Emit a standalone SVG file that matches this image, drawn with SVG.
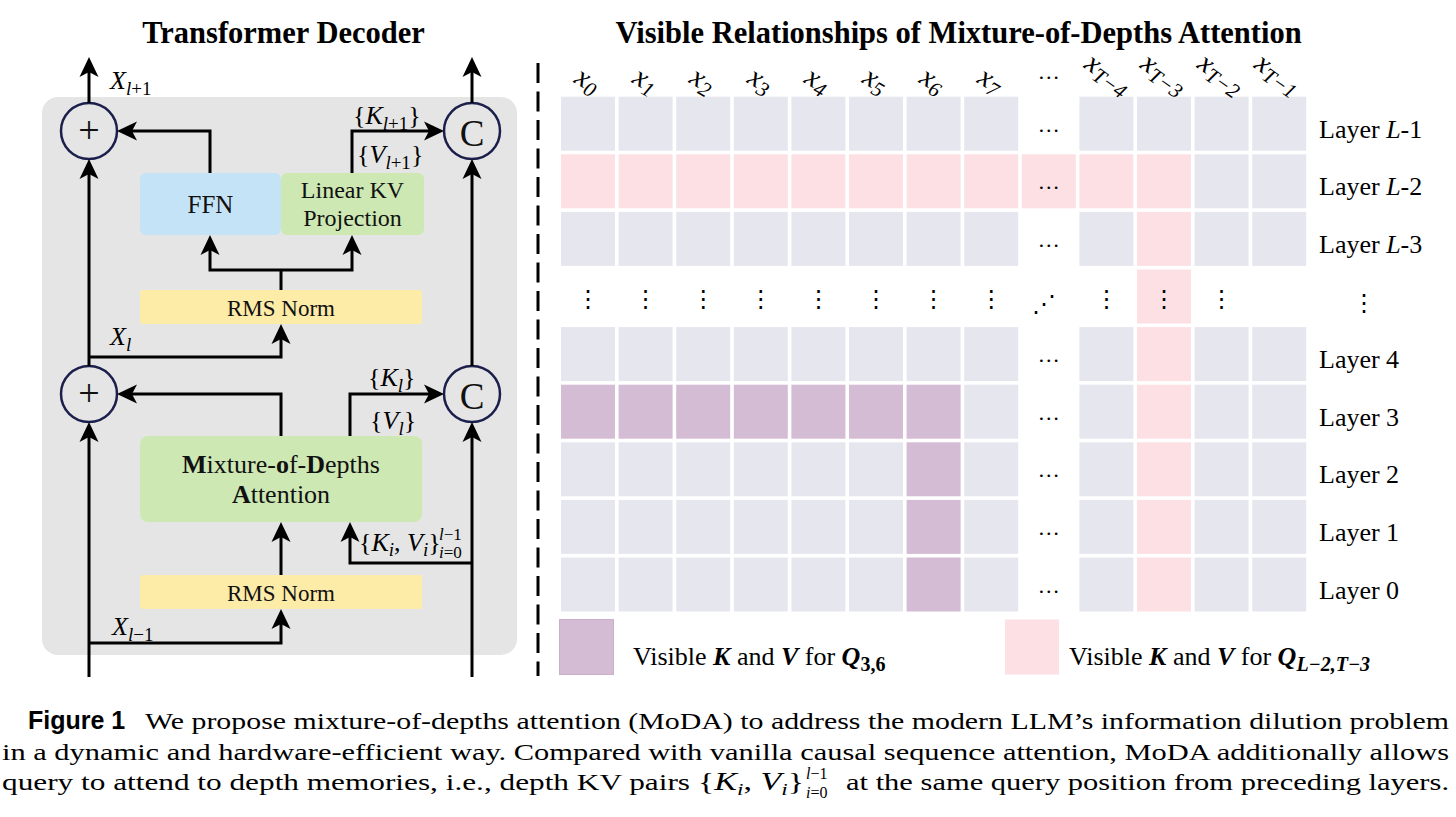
<svg xmlns="http://www.w3.org/2000/svg" width="1456" height="817" viewBox="0 0 1456 817">
<style>
.title{font-family:"Liberation Serif",serif;font-weight:bold;font-size:30.5px;text-anchor:middle}
.box{font-family:"Liberation Serif",serif;text-anchor:middle;fill:#111}
.m{font-family:"Liberation Serif",serif;font-style:italic;font-size:26px}
.up{font-style:normal}
.s{font-size:19px}
.g{fill:#E6E6EF}
.p{fill:#FDE0E3}
.v{fill:#D4BCD4}
.xl{font-family:"Liberation Serif",serif;font-style:italic;font-size:29px}
.xs{font-size:21px}
.el{font-family:"Liberation Serif",serif;font-size:22px;text-anchor:middle}
.vd{font-family:"DejaVu Sans",sans-serif;font-size:24px;text-anchor:middle}
.lay{font-family:"Liberation Serif",serif;font-size:26px}
.ln{fill:none;stroke:#000;stroke-width:3}
.circ{fill:none;stroke:#1B1F4B;stroke-width:2.5}
.cap{font-family:"Liberation Serif",serif}
</style>
<defs>
<marker id="ah" viewBox="0 0 20 20" refX="14" refY="10" markerWidth="20" markerHeight="20" markerUnits="userSpaceOnUse" orient="auto">
<path d="M20,10 L0,0.5 L5,10 L0,19.5 Z" fill="#000"/>
</marker>
</defs>
<rect width="1456" height="817" fill="#fff"/>

<text class="title" x="283.5" y="43">Transformer Decoder</text>
<text class="title" x="958.5" y="43">Visible Relationships of Mixture-of-Depths Attention</text>

<line x1="538" y1="63" x2="538" y2="676" stroke="#000" stroke-width="3" stroke-dasharray="20 8.5"/>

<rect id="panel" x="42" y="97" width="475" height="558" rx="16" fill="#E5E5E5"/>

<g id="ffn"><rect x="140" y="173" width="141" height="62" rx="6" fill="#C5E3F6"/><text class="box" x="210.5" y="213" font-size="25">FFN</text></g>
<g id="linearkv"><rect x="281" y="173" width="143" height="62" rx="6" fill="#CDE8B3"/><text class="box" x="352.5" y="198" font-size="24">Linear KV</text><text class="box" x="352.5" y="226" font-size="24">Projection</text></g>
<g id="rmsnorm-top"><rect x="140" y="290" width="282" height="34" rx="3" fill="#FDEBA8"/><text class="box" x="281" y="316" font-size="23">RMS Norm</text></g>
<g id="moda"><rect x="140" y="436" width="282" height="86" rx="8" fill="#CDE8B3"/><text class="box" x="281" y="473" font-size="26"><tspan font-weight="bold">M</tspan>ixture-<tspan font-weight="bold">o</tspan>f-<tspan font-weight="bold">D</tspan>epths</text><text class="box" x="281" y="503" font-size="26"><tspan font-weight="bold">A</tspan>ttention</text></g>
<g id="rmsnorm-bottom"><rect x="140" y="575" width="282" height="34" rx="3" fill="#FDEBA8"/><text class="box" x="281" y="601" font-size="23">RMS Norm</text></g>

<g id="add-top"><circle class="circ" cx="89" cy="131" r="28"/><text class="box" x="89" y="143" font-size="38">+</text></g>
<g id="concat-top"><circle class="circ" cx="472" cy="131" r="28"/><text class="box" x="472" y="146" font-size="37">C</text></g>
<g id="add-bottom"><circle class="circ" cx="89" cy="394" r="28"/><text class="box" x="89" y="406" font-size="38">+</text></g>
<g id="concat-bottom"><circle class="circ" cx="472" cy="394" r="28"/><text class="box" x="472" y="409" font-size="37">C</text></g>

<g id="connectors">
<path class="ln" marker-end="url(#ah)" d="M89,103 V63"/>
<path class="ln" marker-end="url(#ah)" d="M472,103 V63"/>
<path class="ln" marker-end="url(#ah)" d="M89,677 V428"/>
<path class="ln" marker-end="url(#ah)" d="M89,366 V165"/>
<path class="ln" marker-end="url(#ah)" d="M472,677 V428"/>
<path class="ln" marker-end="url(#ah)" d="M472,366 V165"/>
<path class="ln" marker-end="url(#ah)" d="M89,643 H281 V615"/>
<path class="ln" marker-end="url(#ah)" d="M281,575 V528"/>
<path class="ln" marker-end="url(#ah)" d="M281,436 V394 H123"/>
<path class="ln" marker-end="url(#ah)" d="M350,436 V394 H438"/>
<path class="ln" marker-end="url(#ah)" d="M472,563 H350 V528"/>
<path class="ln" marker-end="url(#ah)" d="M89,357 H281 V330"/>
<path class="ln" d="M281,290 V270"/>
<path class="ln" marker-end="url(#ah)" d="M281,270 H210 V241"/>
<path class="ln" marker-end="url(#ah)" d="M281,270 H352 V241"/>
<path class="ln" marker-end="url(#ah)" d="M210,173 V131 H123"/>
<path class="ln" marker-end="url(#ah)" d="M352,173 V131 H438"/>
</g>

<g id="labels-left">
<text class="m" x="110" y="89">X<tspan class="s" dy="6">l</tspan><tspan class="s up">+1</tspan></text>
<text class="m" x="353" y="124"><tspan class="up">{</tspan>K<tspan class="s" dy="6">l</tspan><tspan class="s up">+1</tspan><tspan class="up" dy="-6">}</tspan></text>
<text class="m" x="357" y="163"><tspan class="up">{</tspan>V<tspan class="s" dy="6">l</tspan><tspan class="s up">+1</tspan><tspan class="up" dy="-6">}</tspan></text>
<text class="m" x="110" y="345">X<tspan class="s" dy="6">l</tspan></text>
<text class="m" x="368" y="386"><tspan class="up">{</tspan>K<tspan class="s" dy="6">l</tspan><tspan class="up" dy="-6">}</tspan></text>
<text class="m" x="370" y="429"><tspan class="up">{</tspan>V<tspan class="s" dy="6">l</tspan><tspan class="up" dy="-6">}</tspan></text>
<text class="m" x="359" y="551"><tspan class="up">{</tspan>K<tspan class="s" dy="5">i</tspan><tspan class="up" dy="-5">, </tspan>V<tspan class="s" dy="5">i</tspan><tspan class="up" dy="-5">}</tspan></text>
<text class="m" style="font-size:17px" x="439" y="540">l<tspan class="up">−1</tspan></text>
<text class="m" style="font-size:17px" x="439" y="558">i<tspan class="up">=0</tspan></text>
<text class="m" x="112" y="635">X<tspan class="s" dy="6">l</tspan><tspan class="s up">−1</tspan></text>
</g>

<g id="grid">
<rect class="g" x="561" y="96.7" width="54" height="54"/><rect class="g" x="618.6" y="96.7" width="54" height="54"/><rect class="g" x="676.2" y="96.7" width="54" height="54"/><rect class="g" x="733.8" y="96.7" width="54" height="54"/><rect class="g" x="791.4" y="96.7" width="54" height="54"/><rect class="g" x="849" y="96.7" width="54" height="54"/><rect class="g" x="906.6" y="96.7" width="54" height="54"/><rect class="g" x="964.2" y="96.7" width="54" height="54"/><rect class="g" x="1079.4" y="96.7" width="54" height="54"/><rect class="g" x="1137" y="96.7" width="54" height="54"/><rect class="g" x="1194.6" y="96.7" width="54" height="54"/><rect class="g" x="1252.2" y="96.7" width="54" height="54"/>
<rect class="p" x="561" y="154.3" width="54" height="54"/><rect class="p" x="618.6" y="154.3" width="54" height="54"/><rect class="p" x="676.2" y="154.3" width="54" height="54"/><rect class="p" x="733.8" y="154.3" width="54" height="54"/><rect class="p" x="791.4" y="154.3" width="54" height="54"/><rect class="p" x="849" y="154.3" width="54" height="54"/><rect class="p" x="906.6" y="154.3" width="54" height="54"/><rect class="p" x="964.2" y="154.3" width="54" height="54"/><rect class="p" x="1021.8" y="154.3" width="54" height="54"/><rect class="p" x="1079.4" y="154.3" width="54" height="54"/><rect class="p" x="1137" y="154.3" width="54" height="54"/><rect class="g" x="1194.6" y="154.3" width="54" height="54"/><rect class="g" x="1252.2" y="154.3" width="54" height="54"/>
<rect class="g" x="561" y="211.9" width="54" height="54"/><rect class="g" x="618.6" y="211.9" width="54" height="54"/><rect class="g" x="676.2" y="211.9" width="54" height="54"/><rect class="g" x="733.8" y="211.9" width="54" height="54"/><rect class="g" x="791.4" y="211.9" width="54" height="54"/><rect class="g" x="849" y="211.9" width="54" height="54"/><rect class="g" x="906.6" y="211.9" width="54" height="54"/><rect class="g" x="964.2" y="211.9" width="54" height="54"/><rect class="g" x="1079.4" y="211.9" width="54" height="54"/><rect class="p" x="1137" y="211.9" width="54" height="54"/><rect class="g" x="1194.6" y="211.9" width="54" height="54"/><rect class="g" x="1252.2" y="211.9" width="54" height="54"/>
<rect class="p" x="1137" y="269.5" width="54" height="54"/>
<rect class="g" x="561" y="327.1" width="54" height="54"/><rect class="g" x="618.6" y="327.1" width="54" height="54"/><rect class="g" x="676.2" y="327.1" width="54" height="54"/><rect class="g" x="733.8" y="327.1" width="54" height="54"/><rect class="g" x="791.4" y="327.1" width="54" height="54"/><rect class="g" x="849" y="327.1" width="54" height="54"/><rect class="g" x="906.6" y="327.1" width="54" height="54"/><rect class="g" x="964.2" y="327.1" width="54" height="54"/><rect class="g" x="1079.4" y="327.1" width="54" height="54"/><rect class="p" x="1137" y="327.1" width="54" height="54"/><rect class="g" x="1194.6" y="327.1" width="54" height="54"/><rect class="g" x="1252.2" y="327.1" width="54" height="54"/>
<rect class="v" x="561" y="384.7" width="54" height="54"/><rect class="v" x="618.6" y="384.7" width="54" height="54"/><rect class="v" x="676.2" y="384.7" width="54" height="54"/><rect class="v" x="733.8" y="384.7" width="54" height="54"/><rect class="v" x="791.4" y="384.7" width="54" height="54"/><rect class="v" x="849" y="384.7" width="54" height="54"/><rect class="v" x="906.6" y="384.7" width="54" height="54"/><rect class="g" x="964.2" y="384.7" width="54" height="54"/><rect class="g" x="1079.4" y="384.7" width="54" height="54"/><rect class="p" x="1137" y="384.7" width="54" height="54"/><rect class="g" x="1194.6" y="384.7" width="54" height="54"/><rect class="g" x="1252.2" y="384.7" width="54" height="54"/>
<rect class="g" x="561" y="442.3" width="54" height="54"/><rect class="g" x="618.6" y="442.3" width="54" height="54"/><rect class="g" x="676.2" y="442.3" width="54" height="54"/><rect class="g" x="733.8" y="442.3" width="54" height="54"/><rect class="g" x="791.4" y="442.3" width="54" height="54"/><rect class="g" x="849" y="442.3" width="54" height="54"/><rect class="v" x="906.6" y="442.3" width="54" height="54"/><rect class="g" x="964.2" y="442.3" width="54" height="54"/><rect class="g" x="1079.4" y="442.3" width="54" height="54"/><rect class="p" x="1137" y="442.3" width="54" height="54"/><rect class="g" x="1194.6" y="442.3" width="54" height="54"/><rect class="g" x="1252.2" y="442.3" width="54" height="54"/>
<rect class="g" x="561" y="499.9" width="54" height="54"/><rect class="g" x="618.6" y="499.9" width="54" height="54"/><rect class="g" x="676.2" y="499.9" width="54" height="54"/><rect class="g" x="733.8" y="499.9" width="54" height="54"/><rect class="g" x="791.4" y="499.9" width="54" height="54"/><rect class="g" x="849" y="499.9" width="54" height="54"/><rect class="v" x="906.6" y="499.9" width="54" height="54"/><rect class="g" x="964.2" y="499.9" width="54" height="54"/><rect class="g" x="1079.4" y="499.9" width="54" height="54"/><rect class="p" x="1137" y="499.9" width="54" height="54"/><rect class="g" x="1194.6" y="499.9" width="54" height="54"/><rect class="g" x="1252.2" y="499.9" width="54" height="54"/>
<rect class="g" x="561" y="557.5" width="54" height="54"/><rect class="g" x="618.6" y="557.5" width="54" height="54"/><rect class="g" x="676.2" y="557.5" width="54" height="54"/><rect class="g" x="733.8" y="557.5" width="54" height="54"/><rect class="g" x="791.4" y="557.5" width="54" height="54"/><rect class="g" x="849" y="557.5" width="54" height="54"/><rect class="v" x="906.6" y="557.5" width="54" height="54"/><rect class="g" x="964.2" y="557.5" width="54" height="54"/><rect class="g" x="1079.4" y="557.5" width="54" height="54"/><rect class="p" x="1137" y="557.5" width="54" height="54"/><rect class="g" x="1194.6" y="557.5" width="54" height="54"/><rect class="g" x="1252.2" y="557.5" width="54" height="54"/>
</g>

<g id="column-labels">
<text class="xl" transform="translate(573,82) rotate(30)">x<tspan class="xs" dy="5">0</tspan></text>
<text class="xl" transform="translate(631,82) rotate(30)">x<tspan class="xs" dy="5">1</tspan></text>
<text class="xl" transform="translate(688,82) rotate(30)">x<tspan class="xs" dy="5">2</tspan></text>
<text class="xl" transform="translate(746,82) rotate(30)">x<tspan class="xs" dy="5">3</tspan></text>
<text class="xl" transform="translate(803,82) rotate(30)">x<tspan class="xs" dy="5">4</tspan></text>
<text class="xl" transform="translate(861,82) rotate(30)">x<tspan class="xs" dy="5">5</tspan></text>
<text class="xl" transform="translate(918,82) rotate(30)">x<tspan class="xs" dy="5">6</tspan></text>
<text class="xl" transform="translate(976,82) rotate(30)">x<tspan class="xs" dy="5">7</tspan></text>
<text class="el" x="1048.8" y="79">…</text>
<text class="xl" transform="translate(1083,67) rotate(35)">x<tspan class="xs" dy="5">T−4</tspan></text>
<text class="xl" transform="translate(1139,67) rotate(35)">x<tspan class="xs" dy="5">T−3</tspan></text>
<text class="xl" transform="translate(1196,67) rotate(35)">x<tspan class="xs" dy="5">T−2</tspan></text>
<text class="xl" transform="translate(1253,67) rotate(35)">x<tspan class="xs" dy="5">T−1</tspan></text>
</g>

<g id="ellipses">
<text class="el" x="1048.8" y="131.7">…</text>
<text class="el" x="1048.8" y="189.3">…</text>
<text class="el" x="1048.8" y="246.9">…</text>
<text class="el" x="1048.8" y="362.1">…</text>
<text class="el" x="1048.8" y="419.7">…</text>
<text class="el" x="1048.8" y="477.3">…</text>
<text class="el" x="1048.8" y="534.9">…</text>
<text class="el" x="1048.8" y="592.5">…</text>
<text class="vd" x="588" y="307">⋮</text>
<text class="vd" x="645.6" y="307">⋮</text>
<text class="vd" x="703.2" y="307">⋮</text>
<text class="vd" x="760.8" y="307">⋮</text>
<text class="vd" x="818.4" y="307">⋮</text>
<text class="vd" x="876" y="307">⋮</text>
<text class="vd" x="933.6" y="307">⋮</text>
<text class="vd" x="991.2" y="307">⋮</text>
<text class="vd" x="1044" y="312">⋰</text>
<text class="vd" x="1106.4" y="307">⋮</text>
<text class="vd" x="1164" y="307">⋮</text>
<text class="vd" x="1221.6" y="307">⋮</text>
<text class="vd" x="1364" y="311">⋮</text>
</g>

<g id="row-labels" class="lay">
<text x="1319" y="137.7">Layer <tspan font-style="italic">L</tspan>-1</text>
<text x="1319" y="195.3">Layer <tspan font-style="italic">L</tspan>-2</text>
<text x="1319" y="252.9">Layer <tspan font-style="italic">L</tspan>-3</text>
<text x="1319" y="368.1">Layer 4</text>
<text x="1319" y="425.7">Layer 3</text>
<text x="1319" y="483.3">Layer 2</text>
<text x="1319" y="540.9">Layer 1</text>
<text x="1319" y="598.5">Layer 0</text>
</g>

<g id="legend">
<rect x="559.5" y="619.5" width="54" height="55" fill="#D4BCD4" stroke="#CBB0CC" stroke-width="1"/>
<text class="lay" x="633" y="665">Visible <tspan font-weight="bold" font-style="italic">K</tspan> and <tspan font-weight="bold" font-style="italic">V</tspan> for <tspan font-weight="bold" font-style="italic">Q</tspan><tspan font-weight="bold" font-size="20" dy="6">3,6</tspan></text>
<rect x="1005" y="619.5" width="54" height="55" fill="#FDE0E3"/>
<text class="lay" x="1069" y="665">Visible <tspan font-weight="bold" font-style="italic">K</tspan> and <tspan font-weight="bold" font-style="italic">V</tspan> for <tspan font-weight="bold" font-style="italic">Q</tspan><tspan font-weight="bold" font-style="italic" font-size="20" dy="6">L−2,T−3</tspan></text>
</g>

<g id="caption">
<text x="28" y="729" font-family="'Liberation Sans',Arial,sans-serif" font-weight="bold" font-size="25">Figure 1</text>
<text class="cap" font-size="24" x="145" y="729" textLength="1304" lengthAdjust="spacingAndGlyphs">We propose mixture-of-depths attention (MoDA) to address the modern LLM’s information dilution problem</text>
<text class="cap" font-size="24" x="2" y="760" textLength="1447" lengthAdjust="spacingAndGlyphs">in a dynamic and hardware-efficient way. Compared with vanilla causal sequence attention, MoDA additionally allows</text>
<text class="cap" font-size="24" x="2" y="790" textLength="688" lengthAdjust="spacingAndGlyphs">query to attend to depth memories, i.e., depth KV pairs</text>
<text class="cap" font-size="25" x="698" y="790" textLength="106" lengthAdjust="spacingAndGlyphs">{<tspan font-style="italic">K</tspan><tspan font-style="italic" font-size="17" dy="5">i</tspan><tspan dy="-5">, </tspan><tspan font-style="italic">V</tspan><tspan font-style="italic" font-size="17" dy="5">i</tspan><tspan dy="-5">}</tspan></text>
<text class="cap" font-size="16" x="806" y="779"><tspan font-style="italic">l</tspan>−1</text>
<text class="cap" font-size="16" x="806" y="798"><tspan font-style="italic">i</tspan>=0</text>
<text class="cap" font-size="24" x="846" y="790" textLength="603" lengthAdjust="spacingAndGlyphs">at the same query position from preceding layers.</text>
</g>
</svg>
